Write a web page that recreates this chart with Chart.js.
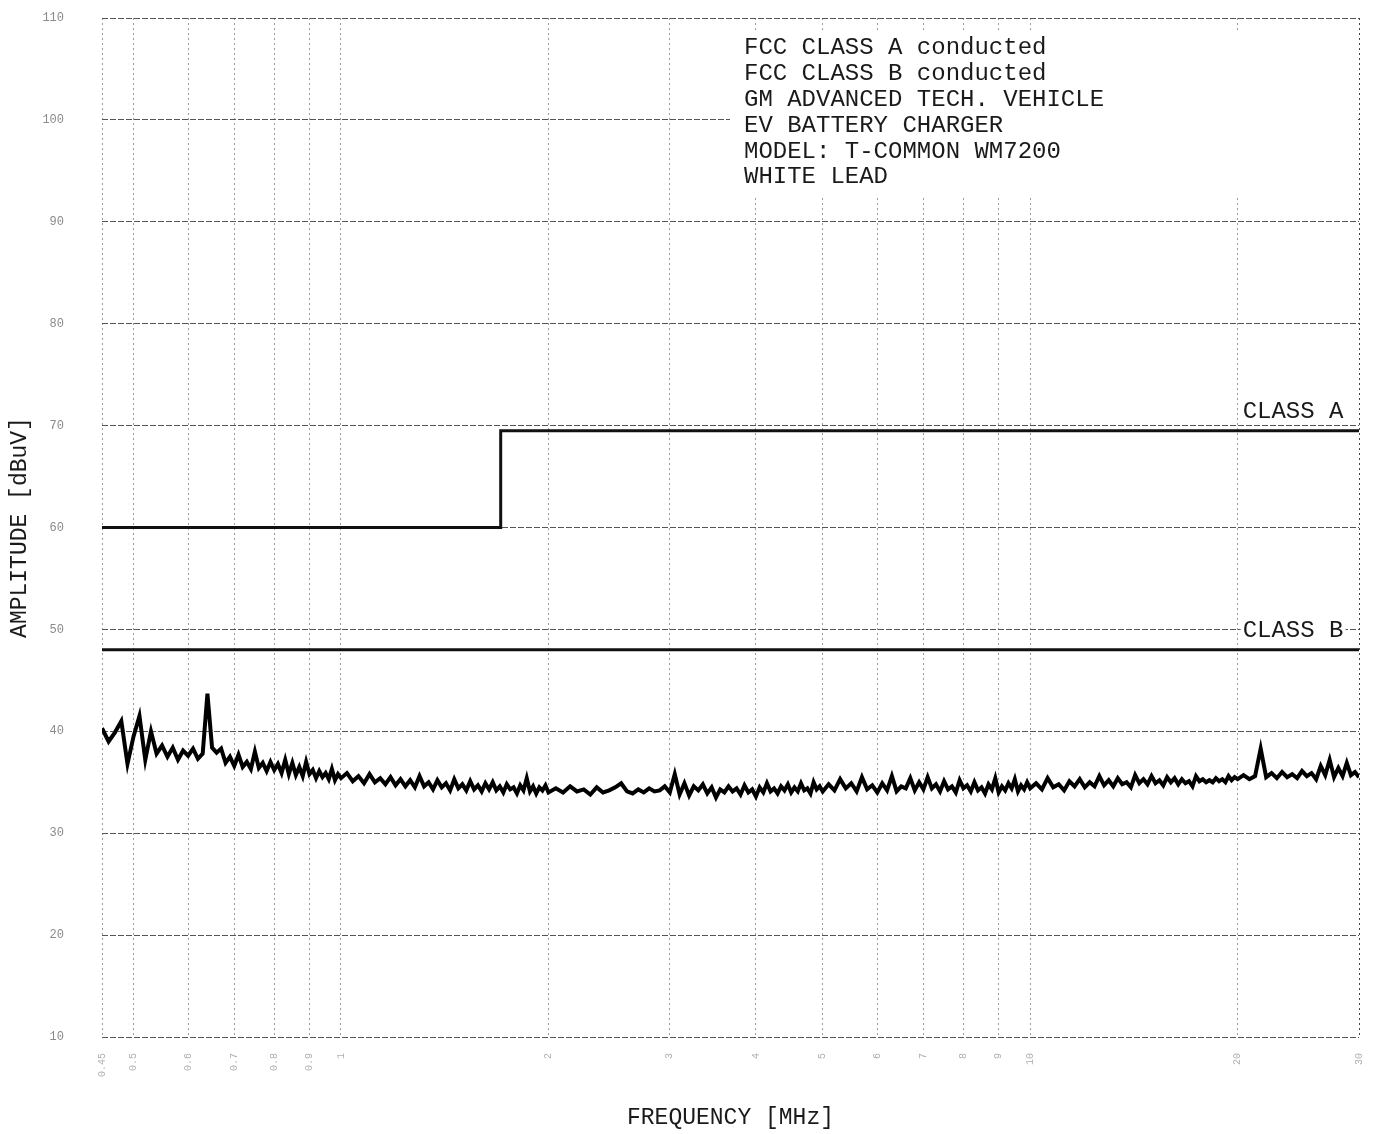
<!DOCTYPE html>
<html>
<head>
<meta charset="utf-8">
<title>FCC conducted emissions - white lead</title>
<script src="https://cdn.jsdelivr.net/npm/chart.js@4.4.1/dist/chart.umd.min.js"></script>
<style>
  html, body { margin: 0; padding: 0; background: #fff; overflow: hidden; }
  canvas { display: block; }
</style>
</head>
<body>
<canvas id="emiChart" width="1379" height="1134"></canvas>
<script>
// ---- data ----
const xTicks = [0.45, 0.5, 0.6, 0.7, 0.8, 0.9, 1, 2, 3, 4, 5, 6, 7, 8, 9, 10, 20, 30];
const yTicks = [10, 20, 30, 40, 50, 60, 70, 80, 90, 100, 110];

// FCC limit lines (MHz / dBuV)
const classAFreq = [0.45, 1.705, 1.705, 30];
const classALevel = [60, 60, 69.5, 69.5];
const classBFreq = [0.45, 30];
const classBLevel = [48, 48];

// measured sweep, white lead
const scanFreq = [
  0.45,0.46,0.47,0.48,0.49,0.50,0.51,0.52,0.53,0.54,0.55,0.56,0.57,0.58,0.59,0.60,0.61,0.62,0.63,0.64,
  0.65,0.66,0.67,0.68,0.69,0.70,0.71,0.72,0.73,0.74,0.75,0.76,0.77,0.78,0.79,0.80,0.81,0.82,0.83,0.84,
  0.85,0.86,0.87,0.88,0.89,0.90,0.91,0.92,0.93,0.94,0.95,0.96,0.97,0.98,0.99,1.00,
  1.02,1.04,1.06,1.08,1.10,1.12,1.14,1.16,1.18,1.20,1.22,1.24,1.26,1.28,1.30,1.32,1.34,1.36,1.38,1.40,
  1.42,1.44,1.46,1.48,1.50,1.52,1.54,1.56,1.58,1.60,1.62,1.64,1.66,1.68,1.70,1.72,1.74,1.76,1.78,1.80,
  1.82,1.84,1.86,1.88,1.90,1.92,1.94,1.96,1.98,2.00,
  2.05,2.10,2.15,2.20,2.25,2.30,2.35,2.40,2.45,2.50,2.55,2.60,2.65,2.70,2.75,2.80,2.85,2.90,2.95,3.00,
  3.05,3.10,3.15,3.20,3.25,3.30,3.35,3.40,3.45,3.50,3.55,3.60,3.65,3.70,3.75,3.80,3.85,3.90,3.95,4.00,
  4.05,4.10,4.15,4.20,4.25,4.30,4.35,4.40,4.45,4.50,4.55,4.60,4.65,4.70,4.75,4.80,4.85,4.90,4.95,5.00,
  5.1,5.2,5.3,5.4,5.5,5.6,5.7,5.8,5.9,6.0,6.1,6.2,6.3,6.4,6.5,6.6,6.7,6.8,6.9,7.0,
  7.1,7.2,7.3,7.4,7.5,7.6,7.7,7.8,7.9,8.0,8.1,8.2,8.3,8.4,8.5,8.6,8.7,8.8,8.9,9.0,
  9.1,9.2,9.3,9.4,9.5,9.6,9.7,9.8,9.9,10.0,
  10.2,10.4,10.6,10.8,11.0,11.2,11.4,11.6,11.8,12.0,12.2,12.4,12.6,12.8,13.0,13.2,13.4,13.6,13.8,14.0,
  14.2,14.4,14.6,14.8,15.0,15.2,15.4,15.6,15.8,16.0,16.2,16.4,16.6,16.8,17.0,17.2,17.4,17.6,17.8,18.0,
  18.2,18.4,18.6,18.8,19.0,19.2,19.4,19.6,19.8,20.0,
  20.4,20.8,21.2,21.6,22.0,22.4,22.8,23.2,23.6,24.0,24.4,24.8,25.2,25.6,26.0,26.4,26.8,27.2,27.6,28.0,
  28.4,28.8,29.2,29.6,30.0
];
const scanLevel = [
  40.3,39.0,39.9,41.0,36.8,39.5,41.5,37.2,40.0,37.8,38.6,37.5,38.4,37.2,38.1,37.6,38.3,37.3,37.8,43.7,
  38.4,37.9,38.3,36.9,37.5,36.6,37.7,36.5,37.0,36.3,38.0,36.4,36.9,36.1,37.0,36.2,36.8,35.9,37.2,35.8,
  36.9,35.7,36.5,35.6,37.0,35.8,36.2,35.4,36.1,35.5,35.9,35.3,36.3,35.2,35.8,35.4,
  35.9,35.1,35.6,34.9,35.8,35.0,35.4,34.8,35.5,34.7,35.3,34.6,35.2,34.5,35.6,34.6,35.0,34.3,35.2,34.5,
  34.9,34.2,35.3,34.4,34.8,34.2,35.1,34.3,34.7,34.1,34.9,34.3,35.0,34.2,34.6,34.0,34.8,34.3,34.5,33.9,
  34.7,34.2,35.4,34.1,34.6,33.9,34.5,34.2,34.7,34.0,
  34.4,34.0,34.6,34.1,34.3,33.8,34.5,34.0,34.2,34.5,34.9,34.1,33.9,34.3,34.0,34.4,34.1,34.2,34.6,34.0,
  35.8,33.8,34.9,33.7,34.6,34.2,34.8,33.9,34.5,33.5,34.3,34.0,34.6,34.1,34.4,33.8,34.7,34.0,34.3,33.6,
  34.5,34.0,34.9,34.1,34.4,33.9,34.6,34.2,34.8,34.0,34.5,34.1,34.9,34.2,34.4,33.9,35.0,34.3,34.6,34.1,
  34.8,34.2,35.3,34.4,34.9,34.1,35.5,34.3,34.7,34.0,34.9,34.2,35.6,34.1,34.6,34.4,35.4,34.2,35.0,34.3,
  35.5,34.4,34.8,34.1,35.1,34.3,34.6,34.0,35.2,34.4,34.7,34.1,35.0,34.2,34.5,33.9,34.8,34.3,35.4,34.0,
  34.6,34.2,34.9,34.4,35.3,34.1,34.7,34.3,35.0,34.4,
  34.9,34.3,35.4,34.5,34.8,34.2,35.1,34.6,35.3,34.5,35.0,34.6,35.6,34.7,35.2,34.6,35.4,34.8,35.0,34.5,
  35.7,34.9,35.3,34.8,35.6,34.9,35.2,34.7,35.5,35.0,35.4,34.8,35.3,34.9,35.1,34.6,35.6,35.1,35.3,35.0,
  35.2,35.0,35.4,35.1,35.3,35.0,35.6,35.2,35.5,35.3,
  35.7,35.3,35.6,38.3,35.5,35.9,35.4,36.0,35.5,35.8,35.4,36.1,35.6,35.9,35.3,36.6,35.7,37.2,35.5,36.4,
  35.6,36.9,35.7,36.0,35.5
];

const infoLines = [
  'FCC CLASS A conducted',
  'FCC CLASS B conducted',
  'GM ADVANCED TECH. VEHICLE',
  'EV BATTERY CHARGER',
  'MODEL: T-COMMON WM7200',
  'WHITE LEAD'
];

const MONO = '"Liberation Mono", "DejaVu Sans Mono", monospace';

function toPoints(xs, ys) {
  return xs.map((x, i) => ({ x, y: ys[i] }));
}

// white note box in the upper right plus the CLASS A / CLASS B tags
const notesPlugin = {
  id: 'notes',
  beforeDatasetsDraw(chart) {
    const { ctx, chartArea, scales } = chart;
    const boxLeft = chartArea.left + 628;
    ctx.save();
    ctx.fillStyle = '#fff';
    ctx.fillRect(boxLeft, chartArea.top + 14, chartArea.right - boxLeft - 2, 163);
    ctx.fillStyle = '#1a1a1a';
    ctx.font = '24px ' + MONO;
    ctx.textBaseline = 'middle';
    ctx.textAlign = 'left';
    infoLines.forEach((t, i) => {
      ctx.fillText(t, boxLeft + 14, chartArea.top + 30 + i * 25.8);
    });
    // gap in the 50 dB grid line behind the CLASS B tag
    const x = scales.x.getPixelForValue(20) + 5;
    const yB = scales.y.getPixelForValue(50) + 1;
    const w = ctx.measureText('CLASS B').width;
    ctx.fillStyle = '#fff';
    ctx.fillRect(x - 2, yB - 10, w + 4, 20);
    ctx.restore();
  },
  afterDatasetsDraw(chart) {
    const { ctx, scales } = chart;
    const x = scales.x.getPixelForValue(20) + 5;
    const yA = scales.y.getPixelForValue(classALevel[3]) - 19;
    const yB = scales.y.getPixelForValue(50) + 1;
    ctx.save();
    ctx.font = '24px ' + MONO;
    ctx.textBaseline = 'middle';
    ctx.textAlign = 'left';
    ctx.fillStyle = '#1a1a1a';
    ctx.fillText('CLASS A', x, yA);
    ctx.fillText('CLASS B', x, yB);
    ctx.restore();
  }
};

new Chart(document.getElementById('emiChart'), {
  type: 'line',
  data: {
    datasets: [
      {
        label: 'Class A limit',
        data: toPoints(classAFreq, classALevel),
        borderColor: '#111',
        borderWidth: 3,
        pointRadius: 0,
        tension: 0
      },
      {
        label: 'Class B limit',
        data: toPoints(classBFreq, classBLevel),
        borderColor: '#111',
        borderWidth: 3,
        pointRadius: 0,
        tension: 0
      },
      {
        label: 'White lead',
        data: toPoints(scanFreq, scanLevel),
        borderColor: '#000',
        borderWidth: 4,
        pointRadius: 0,
        tension: 0
      }
    ]
  },
  options: {
    responsive: false,
    animation: false,
    devicePixelRatio: 1,
    layout: { padding: { left: 0, right: 20, top: 18, bottom: 0 } },
    plugins: {
      legend: { display: false },
      tooltip: { enabled: false }
    },
    scales: {
      x: {
        type: 'logarithmic',
        min: 0.45,
        max: 30,
        afterBuildTicks: (axis) => { axis.ticks = xTicks.map(v => ({ value: v })); },
        afterFit: (axis) => {
          axis.height = 97;
          axis.paddingLeft = 0;
          axis.paddingRight = 0;
        },
        grid: {
          drawTicks: false,
          color: (c) => (c.tick && c.tick.value === 30 ? '#444' : '#9a9a9a'),
          lineWidth: 1
        },
        border: { display: false, dash: [2, 3] },
        ticks: {
          autoSkip: false,
          minRotation: 90,
          maxRotation: 90,
          padding: 16,
          color: '#b0b0b0',
          font: { family: MONO, size: 10 },
          callback: (v) => String(v)
        },
        title: {
          display: true,
          text: 'FREQUENCY [MHz]',
          color: '#1a1a1a',
          font: { family: MONO, size: 23 },
          padding: { top: 0, bottom: 2 }
        }
      },
      y: {
        min: 10,
        max: 110,
        afterBuildTicks: (axis) => { axis.ticks = yTicks.map(v => ({ value: v })); },
        afterFit: (axis) => {
          axis.width = 102;
          axis.paddingTop = 0;
          axis.paddingBottom = 0;
        },
        grid: {
          drawTicks: false,
          color: '#555',
          lineWidth: 1
        },
        border: { display: false, dash: [6, 2] },
        ticks: {
          padding: 38,
          color: '#8a8a8a',
          font: { family: MONO, size: 12 }
        },
        title: {
          display: true,
          text: 'AMPLITUDE [dBuV]',
          color: '#1a1a1a',
          font: { family: MONO, size: 23 },
          padding: { top: 6, bottom: 0 }
        }
      }
    }
  },
  plugins: [notesPlugin]
});
</script>
</body>
</html>
